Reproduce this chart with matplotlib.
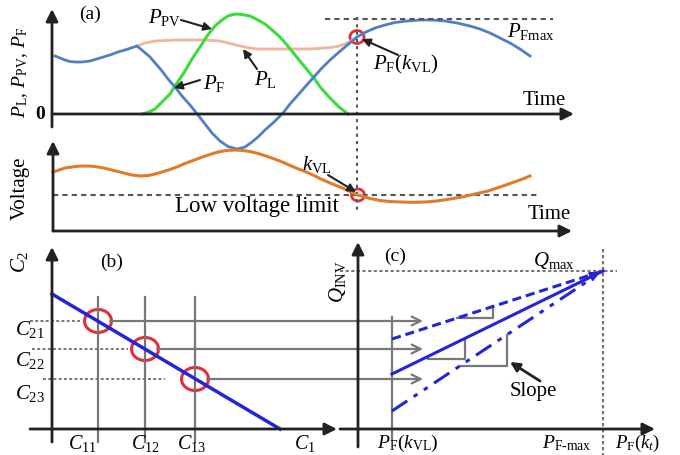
import numpy as np
import matplotlib
matplotlib.use("Agg")
import matplotlib.pyplot as plt
from matplotlib.patches import Ellipse

plt.rcParams['font.family'] = ['Liberation Serif', 'DejaVu Serif']
plt.rcParams['mathtext.fontset'] = 'custom'
plt.rcParams['mathtext.rm'] = 'Liberation Serif'
plt.rcParams['mathtext.it'] = 'Liberation Serif:italic'

# --- panel (a): power curves (picture coordinates, y grows downward) ---
pf_x = [55, 60, 65, 70, 75, 82, 90, 100, 110, 118, 125, 131, 137, 143, 150, 156, 162, 168,
        175, 182, 190, 198, 205, 212, 220, 228, 237, 245, 252, 258, 265, 274, 283, 290, 298,
        305, 313, 321, 330, 338, 345, 351, 357, 366, 375, 385, 395, 407, 420, 432, 445, 457,
        470, 480, 490, 500, 510, 520, 530]
pf_y = [57, 59, 61, 62.5, 63, 63, 62, 59, 56, 53, 51, 49, 47, 52, 58, 65, 72, 80,
        88, 97, 106, 116, 125, 134, 142, 147.5, 150, 148, 143, 138, 131, 123, 114, 105, 96,
        88, 79, 70, 61, 54, 48, 43, 38, 33, 29, 26, 23.5, 22, 21, 21, 22, 24,
        27, 30, 34, 39, 44, 50, 57]
ppv_x = [142, 148, 155, 162, 170, 177, 185, 192, 200, 207, 215, 222, 228, 233, 237, 242, 250,
         257, 265, 272, 280, 287, 295, 304, 313, 321, 330, 339, 348]
ppv_y = [115, 113.5, 110, 103, 95, 84, 72, 60, 48, 37, 27, 21, 17, 15.5, 15, 15.5, 17,
         20.5, 25, 31, 38, 46, 56, 67, 78, 89, 99, 108, 115]
pl_x = [137, 141, 145, 150, 155, 165, 175, 190, 205, 220, 226, 232, 238, 245, 251, 258, 270,
        280, 295, 305, 318, 330, 337, 342, 346, 350, 354, 357]
pl_y = [47, 45.5, 44, 43, 42, 41.5, 41, 41, 41, 42, 43.5, 45, 46.5, 48, 49.2, 50, 50,
        50, 50, 50, 49.5, 48.5, 47.5, 46, 44.5, 42.5, 40, 38]

# --- voltage curve ---
v_x = [53, 59, 65, 72, 78, 85, 92, 98, 105, 112, 118, 125, 132, 140, 148, 155, 162, 170,
       178, 185, 193, 201, 210, 218, 226, 235, 243, 250, 258, 266, 273, 280, 288, 296, 305,
       313, 321, 330, 340, 349, 358, 368, 380, 390, 400, 412, 425, 437, 450, 462, 475, 488,
       500, 510, 520, 530]
v_y = [173, 171, 169, 168, 167.2, 167, 167.2, 168, 169.3, 171, 172.5, 174.3, 176, 177, 176.5, 175, 173, 170.5,
       167.5, 164.5, 161.5, 158.5, 155.5, 153, 151.5, 151, 151.5, 152.5, 154.5, 157, 159.5, 162, 165.5, 169, 172.5,
       176, 180, 184, 188, 192, 196, 199, 201.5, 202.5, 203, 203.3, 203, 202, 200, 198, 195, 192,
       188, 184.5, 181, 177]

# --- panel (b): operating points ---
c1_pos = [98, 145, 195]
c2_pos = [322, 350, 380]
c1_labels = [r'$C_{11}$', r'$C_{12}$', r'$C_{13}$']
c2_labels = [r'$C_{21}$', r'$C_{22}$', r'$C_{23}$']

# --- panel (c): Q-P lines, start at P_F(k_VL), end at Q_max ---
q_start_y = [340, 375, 412]
q_styles = [(0, (3, 1.6)), '-', (0, (6, 2.5, 1.5, 2.5, 1.5, 2.5))]

fig = plt.figure(figsize=(6.8, 4.56), dpi=100)
ax = fig.add_axes([0, 0, 1, 1])
ax.set_xlim(0, 680)
ax.set_ylim(456, 0)
ax.axis('off')

axc = '#222222'
gray = '#777777'
red = '#e0303a'
fs = 15


def arrow(x0, y0, x1, y1, lw=2, color=axc, ms=18, style='-|>'):
    ax.annotate('', xy=(x1, y1), xytext=(x0, y0),
                arrowprops=dict(arrowstyle=style, lw=lw, color=color, mutation_scale=ms,
                                shrinkA=0, shrinkB=0))


# panel (a)
arrow(52, 128, 52, 10)
arrow(52, 115, 574, 115)
ax.plot(pl_x, pl_y, color='#f2b49c', lw=2, solid_joinstyle='round')
ax.plot(ppv_x, ppv_y, color='#3ddc3d', lw=2.2, solid_joinstyle='round')
ax.plot(pf_x, pf_y, color='#4f7fc4', lw=2, solid_joinstyle='round')
ax.plot([325, 553], [20, 20], color='#555555', lw=1.5, ls=(0, (2.5, 2)))
ax.plot([357, 357], [18, 213], color='#555555', lw=1.5, ls=(0, (1.5, 2)))
ax.add_patch(Ellipse((357, 38), 14, 13, fill=False, ec=red, lw=2))
ax.text(90, 14, '(a)', fontsize=14, ha='center', va='center')
ax.text(20, 72, r'$P_{\rm L}$, $P_{\rm PV}$, $P_{\rm F}$', fontsize=14, rotation=90,
        ha='center', va='center')
ax.text(40, 115, '0', fontsize=14, ha='center', va='center', fontweight='bold')
ax.text(523, 101, 'Time', fontsize=15, ha='left', va='center')
ax.text(148, 18, r'$P_{\rm PV}$', fontsize=15, ha='left', va='center')
arrow(181, 21, 212, 30, lw=1.5, ms=12)
ax.text(203, 83, r'$P_{\rm F}$', fontsize=15, ha='left', va='center')
arrow(200, 81, 174, 89, lw=1.5, ms=12)
ax.text(254, 80, r'$P_{\rm L}$', fontsize=15, ha='left', va='center')
arrow(257, 70, 243, 50, lw=1.5, ms=12)
ax.text(507, 32, r'$P_{\rm Fmax}$', fontsize=15, ha='left', va='center')
ax.text(373, 64, r'$P_{\rm F}(k_{\rm VL})$', fontsize=15, ha='left', va='center')
arrow(398, 56, 362, 40, lw=1.5, ms=12)

# voltage panel
arrow(53, 232, 53, 142)
arrow(53, 232, 572, 232)
ax.plot([53, 537], [196, 196], color='#555555', lw=1.5, ls=(0, (2.5, 2)))
ax.plot(v_x, v_y, color='#e07b2a', lw=2.2, solid_joinstyle='round')
ax.add_patch(Ellipse((358, 196), 13, 12, fill=False, ec=red, lw=2))
ax.text(20, 188, 'Voltage', fontsize=15, rotation=90, ha='center', va='center')
ax.text(257, 207, 'Low voltage limit', fontsize=16.5, ha='center', va='center')
ax.text(528, 215, 'Time', fontsize=15, ha='left', va='center')
ax.text(317, 165, r'$k_{\rm VL}$', fontsize=15, ha='center', va='center')
arrow(328, 176, 356, 193, lw=1.5, ms=12)

# panel (b)
arrow(52, 443, 52, 248)
arrow(30, 430, 337, 430)
for cx, cy in zip(c1_pos, c2_pos):
    ax.plot([cx, cx], [298, 443], color=gray, lw=1.6)
ax.plot([30, 80], [c2_pos[0], c2_pos[0]], color=gray, lw=1.4, ls=(0, (1.5, 1.2)))
ax.plot([32, 128], [c2_pos[1], c2_pos[1]], color=gray, lw=1.4, ls=(0, (1.5, 1.2)))
ax.plot([43, 165], [c2_pos[2], c2_pos[2]], color=gray, lw=1.4, ls=(0, (1.5, 1.2)))
for cx, cy in zip(c1_pos, c2_pos):
    ax.annotate('', xy=(423, cy), xytext=(cx + 12, cy),
                arrowprops=dict(arrowstyle='->', lw=1.6, color=gray, mutation_scale=16,
                                shrinkA=0, shrinkB=0))
ax.plot([52, 280], [295, 430], color='#2424d8', lw=2.5)
for cx, cy in zip(c1_pos, c2_pos):
    ax.add_patch(Ellipse((cx, cy), 27, 23, fill=False, ec=red, lw=2.2))
ax.text(112, 262, '(b)', fontsize=14, ha='center', va='center')
ax.text(20, 262, r'$C_2$', fontsize=15, rotation=90, ha='center', va='center')
for lab, cy in zip(c2_labels, [330, 361, 394]):
    ax.text(30, cy, lab, fontsize=15, ha='center', va='center')
for lab, cx in zip(c1_labels, [82, 145, 192]):
    ax.text(cx, 444, lab, fontsize=14.5, ha='center', va='center')
ax.text(305, 444, r'$C_1$', fontsize=14.5, ha='center', va='center')

# panel (c)
arrow(358, 448, 358, 243)
arrow(340, 430, 655, 430)
ax.plot([392, 392], [318, 440], color=gray, lw=1.6)
ax.plot([603, 603], [250, 456], color=gray, lw=1.6, ls=(0, (1.5, 1.2)))
ax.plot([340, 617], [272, 272], color=gray, lw=1.5, ls=(0, (1.5, 1.2)))
# slope triangles
ax.plot([457, 493, 493], [319, 319, 307], color=gray, lw=1.6)
ax.plot([428, 465, 465], [360, 360, 341], color=gray, lw=1.6)
ax.plot([460, 507, 507], [367, 367, 336], color=gray, lw=1.6)
for y0, st in zip(q_start_y, q_styles):
    ax.plot([392, 603], [y0, 272], color='#2424d8', lw=2.2, ls=st)
ax.annotate('', xy=(600, 273), xytext=(570, 288),
            arrowprops=dict(arrowstyle='-|>', lw=1.5, color='#2424d8', mutation_scale=14,
                            shrinkA=0, shrinkB=0))
ax.text(395, 256, '(c)', fontsize=14, ha='center', va='center')
ax.text(338, 282, r'$Q_{\rm INV}$', fontsize=15, rotation=90, ha='center', va='center')
ax.text(554, 261, r'$Q_{\rm max}$', fontsize=15, ha='center', va='center')
ax.text(533, 392, 'Slope', fontsize=15, ha='center', va='center')
arrow(540, 382, 510, 363, lw=2, ms=14)
ax.text(408, 443, r'$P_{\rm F}(k_{\rm VL})$', fontsize=14, ha='center', va='center')
ax.text(567, 443, r'$P_{\rm F\text{-}max}$', fontsize=14, ha='center', va='center')
ax.text(615, 443, r'$P_{\rm F}(k_t)$', fontsize=13.5, ha='left', va='center')

fig.savefig('out.png', dpi=100)
